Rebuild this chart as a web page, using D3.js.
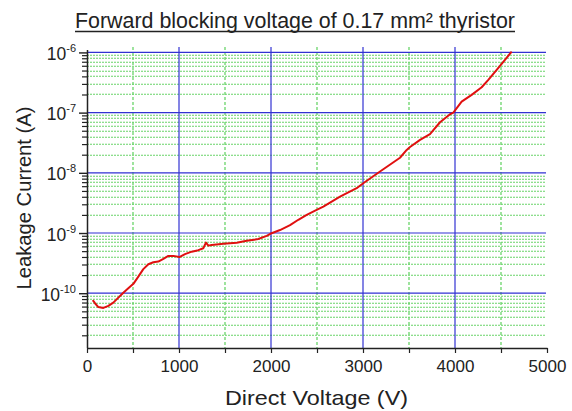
<!DOCTYPE html>
<html>
<head>
<meta charset="utf-8">
<script src="https://cdn.jsdelivr.net/npm/d3@7"></script>
<style>
  html, body { margin: 0; padding: 0; background: #fff; }
  svg { display: block; font-family: "Liberation Sans", Arial, sans-serif; }
</style>
</head>
<body>
<svg id="chart" width="572" height="411"></svg>
<script>
// ---- data ----
const voltage = [62, 87, 123, 178, 232, 286, 341, 395, 449, 504, 558, 612, 667, 721, 775, 830, 884, 938,
  1004, 1065, 1138, 1210, 1264, 1293, 1319, 1355, 1482, 1627, 1736, 1862, 1953, 2007, 2098, 2207, 2297,
  2388, 2496, 2569, 2750, 2931, 3003, 3185, 3402, 3475, 3511, 3620, 3728, 3837, 3946, 3982, 4072, 4181,
  4290, 4362, 4453, 4543, 4616];
const current = [7.66e-11, 6.82e-11, 5.89e-11, 5.70e-11, 6.17e-11, 6.98e-11, 8.45e-11, 1.02e-10, 1.21e-10,
  1.43e-10, 1.89e-10, 2.51e-10, 3.03e-10, 3.27e-10, 3.35e-10, 3.72e-10, 4.17e-10, 4.17e-10,
  3.98e-10, 4.47e-10, 4.90e-10, 5.19e-10, 5.58e-10, 6.92e-10, 6.17e-10, 6.34e-10, 6.61e-10, 6.92e-10,
  7.41e-10, 7.94e-10, 8.95e-10, 9.93e-10, 1.12e-9, 1.35e-9, 1.66e-9,
  2.0e-9, 2.42e-9, 2.75e-9, 4.03e-9, 5.55e-9, 6.71e-9, 1.05e-8, 1.78e-8, 2.4e-8, 2.69e-8, 3.52e-8,
  4.38e-8, 6.92e-8, 9.4e-8, 1.0e-7, 1.52e-7, 1.97e-7, 2.64e-7, 3.49e-7, 5.13e-7, 7.5e-7, 1.03e-6];
const xTicks = [0, 1000, 2000, 3000, 4000, 5000];
const xMinorTicks = [500, 1500, 2500, 3500, 4500];
const yExponents = [-10, -9, -8, -7, -6];
const titleText = "Forward blocking voltage of 0.17 mm² thyristor";
const xTitle = "Direct Voltage (V)";
const yTitle = "Leakage Current (A)";

// ---- layout ----
const svg = d3.select("#chart");
const pLeft = 87, pRight = 547, pTop = 47, pBottom = 348;
const BLUE = "#3232d2", GREEN = "#6ad46a";

const x = d3.scaleLinear().domain([0, 5000]).range([pLeft, pRight]);
const y = d3.scaleLog().domain([Math.pow(10, -10.91), Math.pow(10, -5.91)]).range([pBottom, pTop]);

const majorY = yExponents.map(e => Math.pow(10, e));
const minorY = [];
for (let e = -11; e <= -7; e++) for (let m = 2; m <= 9; m++) {
  const v = m * Math.pow(10, e);
  if (v >= y.domain()[0] && v <= 1e-6) minorY.push(v);
}

const gMinor = svg.append("g").attr("class", "grid-minor");
gMinor.selectAll("line.hmin").data(minorY).join("line").attr("class", "hmin")
  .attr("x1", pLeft).attr("x2", pRight - 1)
  .attr("y1", d => Math.round(y(d)) + 0.25).attr("y2", d => Math.round(y(d)) + 0.25)
  .attr("stroke", GREEN).attr("stroke-width", 1.1).attr("stroke-dasharray", "2,1");
gMinor.selectAll("line.vmin").data(xMinorTicks).join("line").attr("class", "vmin")
  .attr("x1", d => x(d)).attr("x2", d => x(d))
  .attr("y1", pTop).attr("y2", pBottom)
  .attr("stroke", GREEN).attr("stroke-width", 1.3).attr("stroke-dasharray", "3,2");

const gMajor = svg.append("g").attr("class", "grid-major");
gMajor.selectAll("line.hmaj").data(majorY).join("line").attr("class", "hmaj")
  .attr("x1", pLeft).attr("x2", pRight - 1)
  .attr("y1", d => y(d)).attr("y2", d => y(d))
  .style("stroke", BLUE).attr("stroke-width", 1.2);
gMajor.selectAll("line.vmaj").data(xTicks.filter(d => d > 0 && d < 5000)).join("line").attr("class", "vmaj")
  .attr("x1", d => x(d)).attr("x2", d => x(d))
  .attr("y1", pTop).attr("y2", pBottom)
  .style("stroke", BLUE).attr("stroke-width", 1.2);

// ---- axes ----
const xAxis = d3.axisBottom(x)
  .tickValues(xTicks.concat(xMinorTicks).sort((a, b) => a - b))
  .tickSize(5).tickSizeOuter(0)
  .tickFormat(d => xTicks.includes(d) ? d3.format("d")(d) : "");
const gx = svg.append("g").attr("transform", `translate(0,${pBottom})`).call(xAxis);
gx.select(".domain").attr("stroke", "#222").attr("stroke-width", 1.5);
gx.selectAll(".tick line").attr("stroke", "#222").attr("stroke-width", 1.2);
gx.selectAll(".tick text").attr("font-size", 17).attr("fill", "#222").attr("dy", "0.95em")
  .attr("font-family", "Liberation Sans, Arial, sans-serif");

const yAxisMinor = d3.axisLeft(y).tickValues(minorY).tickSize(5).tickFormat("");
const gyMin = svg.append("g").attr("transform", `translate(${pLeft},0)`).call(yAxisMinor);
gyMin.select(".domain").remove();
gyMin.selectAll(".tick line").attr("stroke", "#222").attr("stroke-width", 1.2);

const yAxis = d3.axisLeft(y).tickValues(majorY).tickSize(8).tickSizeOuter(0).tickFormat("");
const gy = svg.append("g").attr("transform", `translate(${pLeft},0)`).call(yAxis);
gy.select(".domain").attr("stroke", "#222").attr("stroke-width", 1.5)
  .attr("d", `M0.5,${pTop + 3}V${pBottom}`);
gy.selectAll(".tick line").attr("stroke", "#222").attr("stroke-width", 1.4);

const yl = svg.append("g").attr("fill", "#222");
yExponents.forEach(e => {
  const t = yl.append("text")
    .attr("x", 76).attr("y", y(Math.pow(10, e)) + 7.5)
    .attr("text-anchor", "end").attr("font-size", 17.5);
  t.append("tspan").text("10");
  t.append("tspan").attr("dy", -8).attr("font-size", 11).text(String(e));
});

// ---- line ----
const data = voltage.map((v, i) => ({ v, c: current[i] }));
svg.append("path").datum(data)
  .attr("fill", "none").attr("stroke", "#e01010").attr("stroke-width", 2)
  .attr("stroke-linejoin", "round")
  .attr("d", d3.line().x(d => x(d.v)).y(d => y(d.c)));

// ---- titles ----
svg.append("text").attr("x", 75).attr("y", 28)
  .attr("font-size", 21.5).attr("fill", "#222")
  .attr("textLength", 440).attr("lengthAdjust", "spacingAndGlyphs")
  .text(titleText);
svg.append("line").attr("x1", 75).attr("x2", 515).attr("y1", 31.5).attr("y2", 31.5)
  .attr("stroke", "#222").attr("stroke-width", 1.5);

svg.append("text").attr("x", 316.5).attr("y", 405)
  .attr("text-anchor", "middle").attr("font-size", 21).attr("fill", "#222")
  .attr("textLength", 183).attr("lengthAdjust", "spacingAndGlyphs")
  .text(xTitle);

svg.append("text")
  .attr("transform", "translate(31,198) rotate(-90)")
  .attr("text-anchor", "middle").attr("font-size", 21).attr("fill", "#222")
  .attr("textLength", 183).attr("lengthAdjust", "spacingAndGlyphs")
  .text(yTitle);
</script>
</body>
</html>
